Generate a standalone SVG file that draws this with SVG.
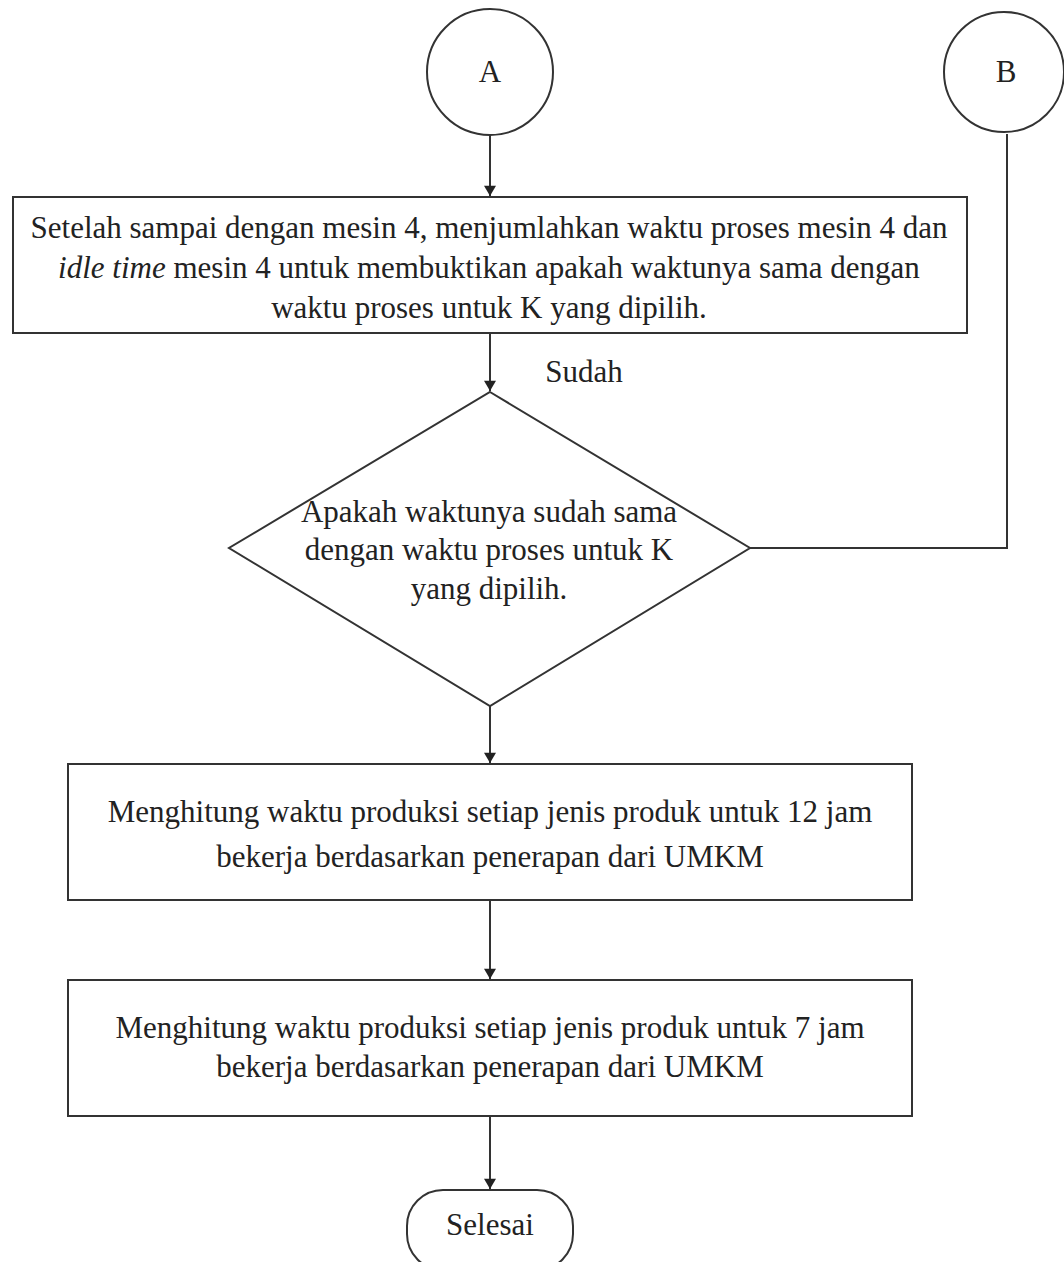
<svg xmlns="http://www.w3.org/2000/svg" width="1064" height="1262" viewBox="0 0 1064 1262">
  <style>
    .shape { fill: #ffffff; stroke: #333333; stroke-width: 2; }
    .edge { fill: none; stroke: #333333; stroke-width: 2; }
    text { font-family: "Liberation Serif", "Times New Roman", serif; font-size: 31px; fill: #222222; text-anchor: middle; }
  </style>
  <defs>
    <marker id="arrow" viewBox="0 0 12 14" refX="12" refY="7" markerWidth="14" markerHeight="12" markerUnits="userSpaceOnUse" orient="auto">
      <path d="M0,0 L12,7 L0,14 Z" fill="#222222"/>
    </marker>
  </defs>
  <rect width="1064" height="1262" fill="#ffffff"/>

  <g id="connectors">
    <line class="edge" x1="490" y1="135" x2="490" y2="196" marker-end="url(#arrow)"/>
    <line class="edge" x1="490" y1="333" x2="490" y2="391" marker-end="url(#arrow)"/>
    <polyline class="edge" points="1007,134 1007,548 750,548"/>
    <line class="edge" x1="490" y1="706" x2="490" y2="763" marker-end="url(#arrow)"/>
    <line class="edge" x1="490" y1="900" x2="490" y2="979" marker-end="url(#arrow)"/>
    <line class="edge" x1="490" y1="1116" x2="490" y2="1189" marker-end="url(#arrow)"/>
    <text x="584" y="382">Sudah</text>
  </g>

  <g id="node-a">
    <circle class="shape" cx="490" cy="72" r="63"/>
    <text x="490" y="82">A</text>
  </g>

  <g id="node-b">
    <circle class="shape" cx="1004" cy="72" r="60"/>
    <text x="1006" y="82">B</text>
  </g>

  <g id="node-sum">
    <rect class="shape" x="13" y="197" width="954" height="136"/>
    <text x="489" y="238">Setelah sampai dengan mesin 4, menjumlahkan waktu proses mesin 4 dan</text>
    <text x="489" y="278"><tspan font-style="italic">idle time</tspan> mesin 4 untuk membuktikan apakah waktunya sama dengan</text>
    <text x="489" y="318">waktu proses untuk K yang dipilih.</text>
  </g>

  <g id="node-check">
    <polygon class="shape" points="490,392 750,548 490,706 229,548"/>
    <text x="489" y="522">Apakah waktunya sudah sama</text>
    <text x="489" y="560">dengan waktu proses untuk K</text>
    <text x="489" y="599">yang dipilih.</text>
  </g>

  <g id="node-12jam">
    <rect class="shape" x="68" y="764" width="844" height="136"/>
    <text x="490" y="822">Menghitung waktu produksi setiap jenis produk untuk 12 jam</text>
    <text x="490" y="867">bekerja berdasarkan penerapan dari UMKM</text>
  </g>

  <g id="node-7jam">
    <rect class="shape" x="68" y="980" width="844" height="136"/>
    <text x="490" y="1038">Menghitung waktu produksi setiap jenis produk untuk 7 jam</text>
    <text x="490" y="1077">bekerja berdasarkan penerapan dari UMKM</text>
  </g>

  <g id="node-selesai">
    <rect class="shape" x="407" y="1190" width="166" height="80" rx="36" ry="36"/>
    <text x="490" y="1235">Selesai</text>
  </g>
</svg>
